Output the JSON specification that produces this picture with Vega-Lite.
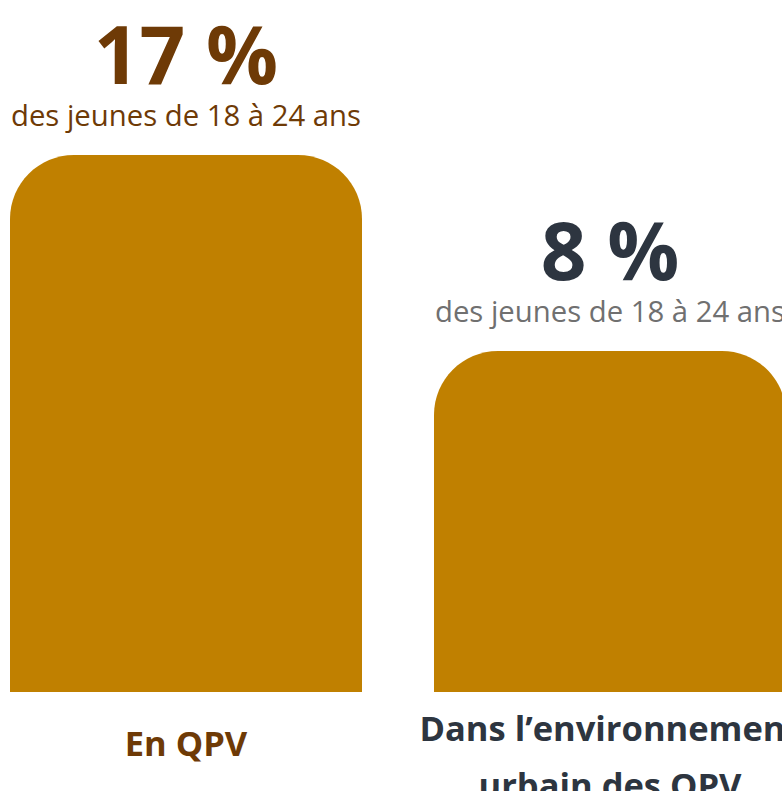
{
  "$schema": "https://vega.github.io/schema/vega-lite/v6.json",
  "width": 782,
  "height": 692,
  "autosize": {"type": "none"},
  "padding": {"left": 0, "top": 0, "right": 0, "bottom": 99},
  "background": "white",
  "config": {"view": {"stroke": null}, "font": "Open Sans"},
  "data": {
    "values": [
      {"cat": "En QPV", "pct": 17, "num": "17 %", "sub": "des jeunes de 18 à 24 ans"},
      {"cat": "Dans l’environnement|urbain des QPV", "pct": 8, "num": "8 %", "sub": "des jeunes de 18 à 24 ans"}
    ]
  },
  "encoding": {
    "x": {
      "field": "cat",
      "type": "nominal",
      "sort": null,
      "scale": {"range": [10, 786], "paddingInner": 0.1698, "paddingOuter": 0},
      "axis": {
        "title": null,
        "domain": false,
        "ticks": false,
        "tickSize": 0,
        "grid": false,
        "labelAngle": 0,
        "labelFont": "Open Sans",
        "labelFontSize": 34.5,
        "labelFontWeight": "bold",
        "labelColor": {"condition": {"test": "datum.value === 'En QPV'", "value": "#6e3a06"}, "value": "#2d3540"},
        "labelPadding": {"condition": {"test": "datum.value === 'En QPV'", "value": 63}, "value": 48},
        "labelBaseline": "alphabetic",
        "labelLineHeight": 57,
        "labelExpr": "split(datum.label, '|')",
        "labelLimit": 0,
        "labelOverlap": false,
        "labelFlush": false
      }
    },
    "y": {
      "field": "pct",
      "type": "quantitative",
      "scale": {"domain": [-7.658, 24.118], "nice": false, "zero": false},
      "axis": null
    }
  },
  "layer": [
    {
      "mark": {"type": "bar", "color": "#c08000", "cornerRadiusTopLeft": 64, "cornerRadiusTopRight": 64},
      "encoding": {"y2": {"datum": -7.658}}
    },
    {
      "mark": {"type": "text", "font": "Open Sans", "fontSize": 80, "fontWeight": "bold", "baseline": "alphabetic", "align": "center", "dy": -71},
      "encoding": {
        "text": {"field": "num"},
        "color": {"condition": {"test": "datum.cat === 'En QPV'", "value": "#6e3a06"}, "value": "#2d3540"}
      }
    },
    {
      "mark": {"type": "text", "font": "Open Sans", "fontSize": 29.3, "baseline": "alphabetic", "align": "center", "dy": -29},
      "encoding": {
        "text": {"field": "sub"},
        "color": {"condition": {"test": "datum.cat === 'En QPV'", "value": "#6e3a06"}, "value": "#707070"}
      }
    }
  ]
}
